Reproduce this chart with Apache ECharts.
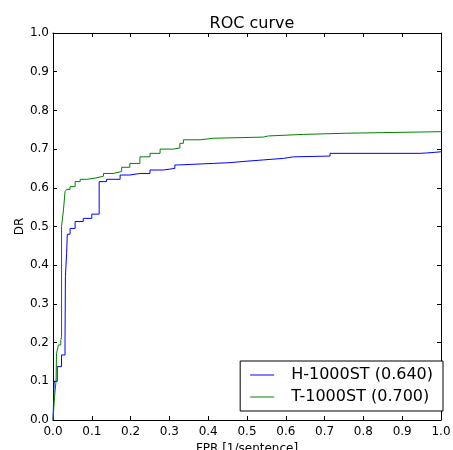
<!DOCTYPE html>
<html>
<head>
<meta charset="utf-8">
<script src="https://cdn.jsdelivr.net/npm/echarts@6/dist/echarts.min.js"></script>
<style>html,body{margin:0;padding:0;background:#fff;}#c{width:453px;height:450px;}</style>
</head>
<body>
<div id="c"></div>
<script>
var titleText = 'ROC curve';
var xName = 'FPR [1/sentence]';
var yName = 'DR';
var seriesNames = ['H-1000ST (0.640)', 'T-1000ST (0.700)'];

var hFPR = [0, 0.003, 0.011, 0.022, 0.031, 0.032, 0.035, 0.037, 0.044, 0.057, 0.078, 0.100, 0.119, 0.119, 0.138, 0.173, 0.198, 0.224, 0.250, 0.284, 0.314, 0.323, 0.413, 0.456, 0.490, 0.542, 0.594, 0.620, 0.714, 0.946, 0.963, 1.0];
var hDR  = [0, 0.100, 0.138, 0.168, 0.207, 0.370, 0.430, 0.480, 0.495, 0.513, 0.521, 0.532, 0.543, 0.616, 0.622, 0.633, 0.637, 0.637, 0.646, 0.650, 0.659, 0.663, 0.665, 0.668, 0.672, 0.676, 0.680, 0.682, 0.689, 0.690, 0.693, 0.693];

var tFPR = [0, 0.004, 0.008, 0.009, 0.014, 0.020, 0.022, 0.022, 0.027, 0.031, 0.035, 0.044, 0.057, 0.070, 0.087, 0.108, 0.130, 0.155, 0.177, 0.198, 0.224, 0.250, 0.276, 0.310, 0.327, 0.336, 0.379, 0.413, 0.542, 0.555, 0.645, 0.757, 1.0];
var tDR  = [0, 0.060, 0.103, 0.172, 0.194, 0.205, 0.215, 0.500, 0.543, 0.590, 0.596, 0.603, 0.616, 0.622, 0.625, 0.630, 0.637, 0.642, 0.653, 0.663, 0.680, 0.689, 0.700, 0.703, 0.715, 0.724, 0.728, 0.731, 0.734, 0.738, 0.741, 0.745, 0.745];

var xTicks = [0, 0.1, 0.2, 0.3, 0.4, 0.5, 0.6, 0.7, 0.8, 0.9, 1.0];
var yTicks = [0, 0.1, 0.2, 0.3, 0.4, 0.5, 0.6, 0.7, 0.8, 0.9, 1.0];

function pairs(xs, ys) { return xs.map(function (x, i) { return [x, ys[i]]; }); }

var font = 'DejaVu Sans';
var chart = echarts.init(document.getElementById('c'), null, {renderer: 'canvas'});
function axisCommon() {
  return {
    min: xTicks[0], max: xTicks[xTicks.length - 1], interval: 0.1,
    axisLine: {show: true, onZero: false, lineStyle: {color: '#000', width: 1}},
    axisTick: {show: true, inside: true, length: 4, lineStyle: {color: '#000'}},
    splitLine: {show: false}
  };
}
chart.setOption({
  animation: false,
  backgroundColor: '#fff',
  title: {text: titleText, left: 247, top: 11, textAlign: 'center',
    textStyle: {fontFamily: font, fontSize: 16, fontWeight: 'normal', color: '#000'}},
  grid: {left: 53, right: 12, top: 33, bottom: 30, containLabel: false, outerBoundsMode: 'none'},
  xAxis: [
    Object.assign(axisCommon(), {type: 'value', position: 'bottom',
      name: xName, nameLocation: 'middle', nameGap: 22,
      nameTextStyle: {fontFamily: font, fontSize: 12, color: '#000'},
      axisLabel: {fontFamily: font, fontSize: 12, color: '#000', margin: 6,
        formatter: function (v) { return v.toFixed(1); }}}),
    Object.assign(axisCommon(), {type: 'value', position: 'top', axisLabel: {show: false}})
  ],
  yAxis: [
    Object.assign(axisCommon(), {type: 'value', position: 'left',
      name: yName, nameLocation: 'middle', nameGap: 27, nameMoveOverlap: false,
      nameTextStyle: {fontFamily: font, fontSize: 12, color: '#000'},
      axisLabel: {fontFamily: font, fontSize: 12, color: '#000', margin: 4,
        formatter: function (v) { return v.toFixed(1); }}}),
    Object.assign(axisCommon(), {type: 'value', position: 'right', axisLabel: {show: false}})
  ],
  legend: {
    orient: 'vertical', right: 10, bottom: 39,
    backgroundColor: '#fff', borderColor: '#000', borderWidth: 1, borderRadius: 0,
    padding: [6, 10, 6, 10], itemGap: 6, itemWidth: 24, itemHeight: 16,
    icon: 'path://M0,7.5L24,7.5L24,8.5L0,8.5Z',
    textStyle: {fontFamily: font, fontSize: 16, color: '#000', lineHeight: 16, padding: [0, 0, 0, 12]},
    data: seriesNames
  },
  series: [
    {name: seriesNames[0], type: 'line', step: 'end', symbol: 'none', xAxisIndex: 0, yAxisIndex: 0,
      data: pairs(hFPR, hDR), lineStyle: {color: '#0000ff', width: 1}, itemStyle: {color: '#0000ff'}},
    {name: seriesNames[1], type: 'line', step: 'end', symbol: 'none', xAxisIndex: 0, yAxisIndex: 0,
      data: pairs(tFPR, tDR), lineStyle: {color: '#008000', width: 1}, itemStyle: {color: '#008000'}}
  ]
});
</script>
</body>
</html>
